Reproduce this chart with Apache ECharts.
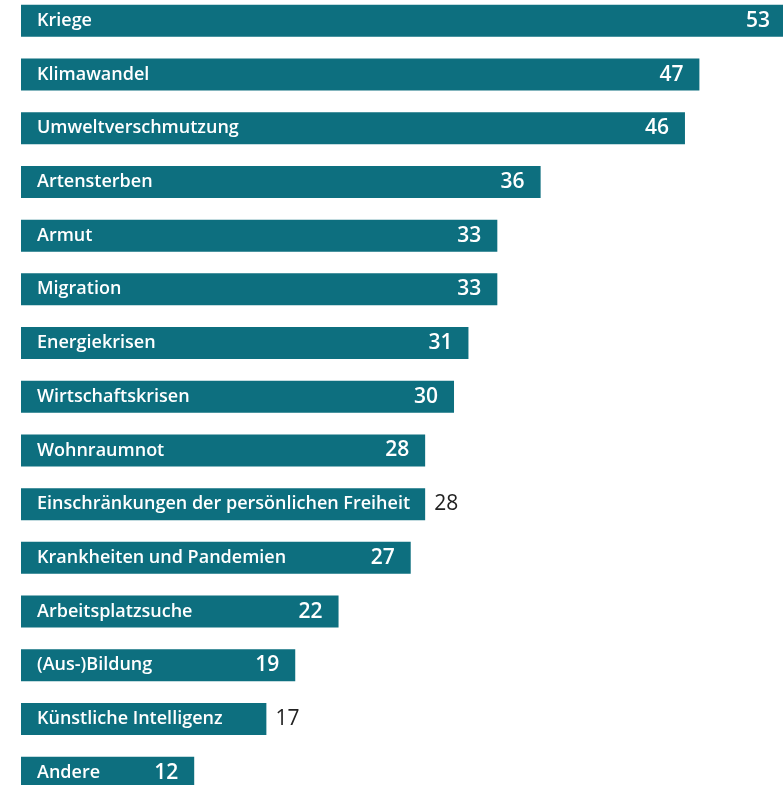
<!DOCTYPE html>
<html>
<head>
<meta charset="utf-8">
<script src="https://cdn.jsdelivr.net/npm/echarts@6/dist/echarts.min.js"></script>
<style>html,body{margin:0;padding:0;background:#fff;overflow:hidden;width:783px;height:785px;}#c{position:absolute;left:0;top:-6px;width:790px;height:806px;}</style>
</head>
<body>
<div id="c"></div>
<script>
var categories = ['Kriege','Klimawandel','Umweltverschmutzung','Artensterben','Armut','Migration','Energiekrisen','Wirtschaftskrisen','Wohnraumnot','Einschränkungen der persönlichen Freiheit','Krankheiten und Pandemien','Arbeitsplatzsuche','(Aus-)Bildung','Künstliche Intelligenz','Andere'];
var values = [53,47,46,36,33,33,31,30,28,28,27,22,19,17,12];
var outsideLabels = ['Einschränkungen der persönlichen Freiheit','Künstliche Intelligenz'];

var barColor = '#0d6f7f';
var data = values.map(function(v,i){
  var item = {value: v};
  if (outsideLabels.indexOf(categories[i]) >= 0) {
    item.label = {position:'right', distance:9, color:'#222', fontWeight:'normal'};
  }
  return item;
});

var chart = echarts.init(document.getElementById('c'));
chart.setOption({
  animation:false,
  grid:{left:21, width:765, top:0, height:805.5, containLabel:false},
  xAxis:{type:'value', min:0, max:53, show:false},
  yAxis:{type:'category', inverse:true, data:categories,
    axisLine:{show:false}, axisTick:{show:false},
    axisLabel:{inside:true, margin:16, color:'#ffffff', fontFamily:'Open Sans', fontWeight:600, fontSize:18},
    z:10},
  series:[{
    type:'bar', data:data, barWidth:32, clip:false,
    itemStyle:{color:barColor},
    label:{show:true, position:'insideRight', distance:16, color:'#ffffff', fontFamily:'Open Sans', fontWeight:600, fontSize:21}
  }]
});
</script>
</body>
</html>
